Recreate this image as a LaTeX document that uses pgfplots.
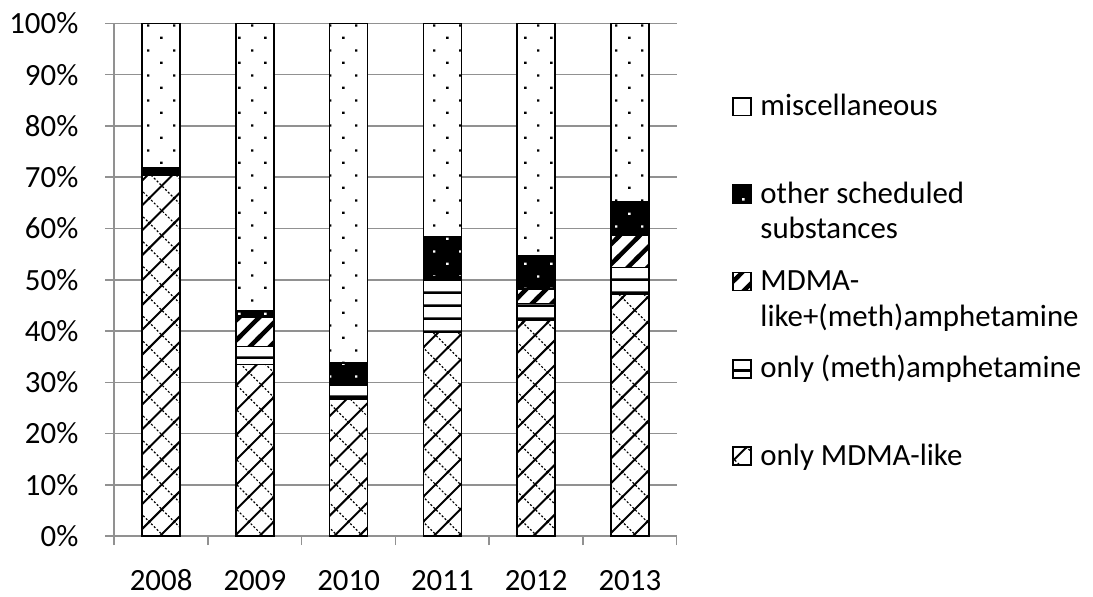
\documentclass[border=0pt]{standalone}
\usepackage{fontspec}
\setmainfont{Carlito}
\usepackage{pgfplots}
\pgfplotsset{compat=1.18}
\usetikzlibrary{patterns}

\definecolor{gridgray}{RGB}{145,145,145}

% sparse staggered dots (miscellaneous, and white on black for other)
\pgfdeclarepatternformonly{miscdots}{\pgfqpoint{0pt}{0pt}}{\pgfqpoint{13pt}{12.7pt}}{\pgfqpoint{13pt}{12.7pt}}{%
  \pgfpathrectangle{\pgfqpoint{2.6pt}{2.6pt}}{\pgfqpoint{1.2pt}{1.2pt}}%
  \pgfpathrectangle{\pgfqpoint{9.1pt}{8.95pt}}{\pgfqpoint{1.2pt}{1.2pt}}%
  \pgfusepath{fill}}
% horizontal lines (only (meth)amphetamine)
\pgfdeclarepatternformonly{methlines}{\pgfqpoint{0pt}{0pt}}{\pgfqpoint{6.5pt}{6.5pt}}{\pgfqpoint{6.5pt}{6.5pt}}{%
  \pgfpathrectangle{\pgfqpoint{-0.1pt}{2.6pt}}{\pgfqpoint{6.7pt}{1.3pt}}%
  \pgfusepath{fill}}
% wide upward stripes (MDMA-like+(meth)amphetamine)
\pgfdeclarepatternformonly{mixstripes}{\pgfqpoint{-2pt}{-2pt}}{\pgfqpoint{12pt}{12pt}}{\pgfqpoint{10pt}{10pt}}{%
  \pgfsetlinewidth{2.2pt}%
  \pgfpathmoveto{\pgfqpoint{-1pt}{-1pt}}\pgfpathlineto{\pgfqpoint{11pt}{11pt}}%
  \pgfusepath{stroke}}
% diagonal hatch (only MDMA-like)
\pgfdeclarepatternformonly{mdmahatch}{\pgfqpoint{-1pt}{-1pt}}{\pgfqpoint{13.5pt}{13.5pt}}{\pgfqpoint{12.5pt}{12.5pt}}{%
  \pgfsetlinewidth{1pt}%
  \pgfpathmoveto{\pgfqpoint{-0.5pt}{-0.5pt}}\pgfpathlineto{\pgfqpoint{13pt}{13pt}}%
  \pgfusepath{stroke}%
  \pgfsetlinewidth{0.6pt}\pgfsetdash{{1pt}{1pt}}{0pt}%
  \pgfpathmoveto{\pgfqpoint{-0.5pt}{13pt}}\pgfpathlineto{\pgfqpoint{13pt}{-0.5pt}}%
  \pgfusepath{stroke}}

\newcommand{\legtext}[1]{\parbox[t]{167pt}{\raggedright\strut #1}}

\begin{document}
\begin{tikzpicture}
\begin{axis}[
  scale only axis, width=282.5pt, height=257.5pt,
  ybar stacked, bar width=19pt,
  xmin=-0.5, xmax=5.5, ymin=0, ymax=100,
  axis lines*=left,
  axis line style={gridgray, line width=0.75pt},
  xtick={0,...,5},
  xticklabels={2008,2009,2010,2011,2012,2013},
  minor xtick={-0.5,0.5,...,5.5},
  ytick={0,10,...,100},
  yticklabels={0\%,10\%,20\%,30\%,40\%,50\%,60\%,70\%,80\%,90\%,100\%},
  tick align=outside, major tick length=4.5pt, minor tick length=4.5pt,
  tick style={gridgray, line width=0.75pt},
  major x tick style={draw=none},
  minor x tick style={gridgray, line width=0.75pt},
  ymajorgrids, grid style={gridgray, line width=0.75pt},
  tick label style={font=\fontsize{15.5}{18}\selectfont},
  xticklabel style={anchor=base, text depth=0pt, inner ysep=3pt, yshift=-22.8pt},
  yticklabel style={inner ysep=6.4pt, xshift=-10pt, text width=36pt, align=right},
  every axis plot/.append style={draw=black, line width=0.75pt,
    legend image code/.code={\draw[##1,line width=0.75pt] (0pt,0pt) rectangle (9pt,9pt);}},
  reverse legend,
  legend style={at={(1,1)}, anchor=north west, xshift=28pt, yshift=-33.75pt,
    draw=none, fill=none, inner sep=0pt, outer sep=0pt,
    row sep=30.9pt, column sep=4.3pt,
    font=\fontsize{15.5}{18}\selectfont,
    nodes={inner sep=0pt, outer sep=0pt, text depth=0pt},
    cells={anchor=base west}},
]
\addplot[fill=white, postaction={pattern=mdmahatch}] coordinates {
  (0,70.3) (1,33.5) (2,26.7) (3,39.8) (4,42.2) (5,47.2)};
\addlegendentry{\legtext{only MDMA-like}}
\addplot[fill=white, postaction={pattern=methlines}] coordinates {
  (0,0.3) (1,3.5) (2,2.8) (3,10.5) (4,3.2) (5,5.2)};
\addlegendentry{\legtext{only (meth)amphetamine}}
\addplot[fill=white, postaction={pattern=mixstripes}] coordinates {
  (0,0.2) (1,5.7) (2,0.3) (3,0.2) (4,2.8) (5,6.2)};
\addlegendentry{\legtext{MDMA-\\like+(meth)amphetamine}}
\addplot[fill=black, postaction={pattern=miscdots, pattern color=white}] coordinates {
  (0,1.0) (1,1.2) (2,4.0) (3,7.9) (4,6.5) (5,6.6)};
\addlegendentry{\legtext{other scheduled\\substances}}
\addplot[fill=white, postaction={pattern=miscdots}] coordinates {
  (0,28.2) (1,56.1) (2,66.2) (3,41.6) (4,45.3) (5,34.8)};
\addlegendentry{\legtext{miscellaneous}}
\end{axis}
\end{tikzpicture}
\end{document}
